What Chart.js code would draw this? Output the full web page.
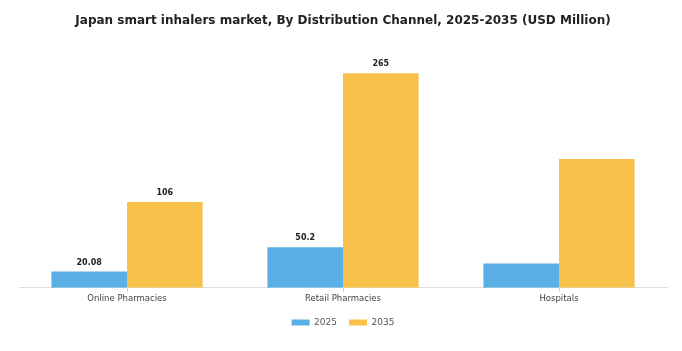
<!DOCTYPE html>
<html>
<head>
<meta charset="utf-8">
<script src="https://cdn.jsdelivr.net/npm/chart.js@4/dist/chart.umd.min.js"></script>
<style>
  html, body { margin: 0; padding: 0; background: #fff; }
  #wrap { width: 682px; height: 351px; }
</style>
</head>
<body>
<div id="wrap"><canvas id="barChart" width="682" height="351"></canvas></div>
<script>
// chart data
var channels = ['Online Pharmacies', 'Retail Pharmacies', 'Hospitals'];
var years = ['2025', '2035'];
var values2025 = [20.08, 50.2, 30];
var values2035 = [106, 265, 159];
// labels shown above bars (hospitals has none)
var labels2025 = ['20.08', '50.2', null];
var labels2035 = ['106', '265', null];

var barLabelPlugin = {
    id: 'barLabels',
    afterDatasetsDraw: function(chart) {
        var ctx = chart.ctx;
        var texts = [labels2025, labels2035];
        ctx.save();
        ctx.font = 'bold 8px "DejaVu Sans"';
        ctx.fillStyle = '#222';
        ctx.textAlign = 'center';
        ctx.textBaseline = 'bottom';
        chart.data.datasets.forEach(function(ds, i) {
            var meta = chart.getDatasetMeta(i);
            meta.data.forEach(function(bar, j) {
                var t = texts[i][j];
                if (t) ctx.fillText(t, bar.x, bar.y - 5);
            });
        });
        ctx.restore();
    }
};

var barCtx = document.getElementById('barChart').getContext('2d');
var barChart = new Chart(barCtx, {
    type: 'bar',
    data: {
        labels: channels,
        datasets: [
            {
                label: years[0],
                backgroundColor: '#5aafe6',
                data: values2025,
            },
            {
                label: years[1],
                backgroundColor: '#f8c24a',
                data: values2035,
            },
        ],
    },
    options: {
        responsive: false,
        animation: false,
        categoryPercentage: 0.7,
        barPercentage: 1.0,
        layout: {
            padding: { left: 19, right: 15, top: 0, bottom: 14 }
        },
        plugins: {
            title: {
                display: true,
                text: 'Japan smart inhalers market, By Distribution Channel, 2025-2035 (USD Million)',
                font: { family: 'DejaVu Sans', size: 12, weight: 'bold' },
                color: '#222',
                padding: { top: 14, bottom: 18 },
            },
            legend: {
                position: 'bottom',
                labels: {
                    boxWidth: 18,
                    boxHeight: 6,
                    padding: 12,
                    font: { family: 'DejaVu Sans', size: 9 },
                    color: '#555',
                },
            },
            tooltip: { enabled: false },
        },
        scales: {
            x: {
                offset: true,
                grid: { display: true, drawOnChartArea: false, offset: false, tickLength: 4, color: '#ccc' },
                border: { color: '#ddd' },
                ticks: {
                    font: { family: 'DejaVu Sans', size: 8.5 },
                    color: '#444',
                    padding: 2,
                },
            },
            y: {
                display: false,
                beginAtZero: true,
                max: 298,
            },
        },
    },
    plugins: [barLabelPlugin],
});
</script>
</body>
</html>
